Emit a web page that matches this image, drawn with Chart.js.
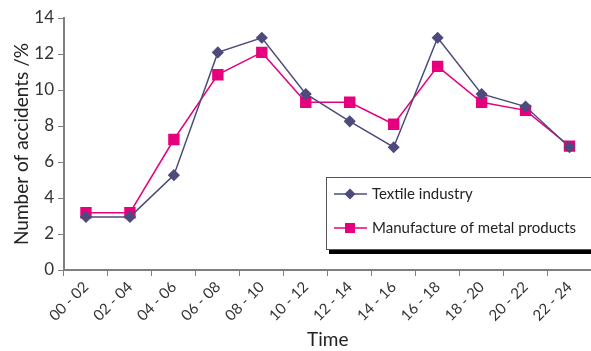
<!DOCTYPE html>
<html>
<head>
<meta charset="utf-8">
<script src="https://cdn.jsdelivr.net/npm/chart.js@4"></script>
<style>
  html, body { margin: 0; padding: 0; background: #fff; overflow: hidden; }
  #wrap { width: 600px; height: 351px; }
</style>
</head>
<body>
<div id="wrap"><canvas id="chart" width="600" height="351"></canvas></div>
<script>
// Datos del gráfico
const timeSlots = ["00 - 02", "02 - 04", "04 - 06", "06 - 08", "08 - 10", "10 - 12",
  "12 - 14", "14 - 16", "16 - 18", "18 - 20", "20 - 22", "22 - 24"]
const textileValues = [2.95, 2.95, 5.27, 12.09, 12.9, 9.78, 8.26, 6.82, 12.9, 9.78, 9.08, 6.82]
const metalValues = [3.18, 3.18, 7.25, 10.85, 12.09, 9.32, 9.32, 8.1, 11.31, 9.32, 8.87, 6.88]
const yTicks = [0, 2, 4, 6, 8, 10, 12, 14]

const seriesNames = ["Textile industry", "Manufacture of metal products"]
const textileColor = "#4d4b7c"
const metalColor = "#e6007e"
const axisColor = "#7f7f7f"
const fontName = "Lato, 'Open Sans', sans-serif"

// Leyenda con caja y sombra
const boxLegend = {
  id: "boxLegend",
  afterDraw(chart) {
    const ctx = chart.ctx
    const x = 326, y = 177, w = 300, h = 72
    ctx.save()
    ctx.fillStyle = "#000"
    ctx.fillRect(x + 3, y + h, w, 5)
    ctx.fillStyle = "#fff"
    ctx.fillRect(x, y, w, h)
    ctx.strokeStyle = "#555"
    ctx.lineWidth = 1
    ctx.strokeRect(x + 0.5, y + 0.5, w, h)

    chart.data.datasets.forEach((ds, i) => {
      const ly = y + 17 + i * 34
      ctx.strokeStyle = ds.borderColor
      ctx.lineWidth = 1.5
      ctx.beginPath()
      ctx.moveTo(334, ly)
      ctx.lineTo(367, ly)
      ctx.stroke()
      Chart.helpers.drawPoint(ctx, {
        pointStyle: ds.pointStyle,
        radius: ds.pointStyle === "rect" ? 6 : 4.5,
        borderWidth: 1
      }, 350, ly)
      ctx.fillStyle = ds.borderColor
      ctx.fill()
      ctx.fillStyle = "#222"
      ctx.font = "15px " + fontName
      ctx.textBaseline = "middle"
      ctx.fillText(seriesNames[i], 372, ly)
    })
    ctx.restore()
  }
}

const ctx = document.getElementById("chart").getContext("2d")
new Chart(ctx, {
  type: "line",
  data: {
    labels: timeSlots,
    datasets: [
      {
        label: seriesNames[0],
        data: textileValues,
        borderColor: textileColor,
        backgroundColor: textileColor,
        borderWidth: 1.5,
        pointStyle: "rectRot",
        pointRadius: 5,
        tension: 0
      },
      {
        label: seriesNames[1],
        data: metalValues,
        borderColor: metalColor,
        backgroundColor: metalColor,
        borderWidth: 1.5,
        pointStyle: "rect",
        pointRadius: 7,
        tension: 0
      }
    ]
  },
  options: {
    responsive: false,
    animation: false,
    layout: { padding: { top: 18, right: 7, left: 0, bottom: 0 } },
    plugins: {
      legend: { display: false },
      tooltip: { enabled: false }
    },
    scales: {
      x: {
        offset: true,
        grid: { offset: true, drawOnChartArea: false, color: axisColor, tickLength: 6 },
        border: { color: axisColor, width: 2 },
        ticks: {
          minRotation: 45, maxRotation: 45, autoSkip: false,
          color: "#333", padding: 2,
          font: { family: fontName, size: 15 }
        },
        title: {
          display: true, text: "Time", color: "#222",
          font: { family: fontName, size: 19 },
          padding: { top: 0, bottom: 0 }
        },
        afterFit: (s) => { s.height = 81 }
      },
      y: {
        min: 0, max: 14,
        afterBuildTicks: (s) => { s.ticks = yTicks.map((v) => ({ value: v })) },
        grid: { drawOnChartArea: false, color: axisColor, tickLength: 6 },
        border: { color: axisColor, width: 2 },
        ticks: {
          color: "#333", padding: 4,
          font: { family: fontName, size: 17 }
        },
        title: {
          display: true, text: "Number of accidents /%", color: "#222",
          font: { family: fontName, size: 19 },
          padding: { top: 10, bottom: 2 }
        },
        afterFit: (s) => { s.width = 64 }
      }
    }
  },
  plugins: [boxLegend]
})
</script>
</body>
</html>
